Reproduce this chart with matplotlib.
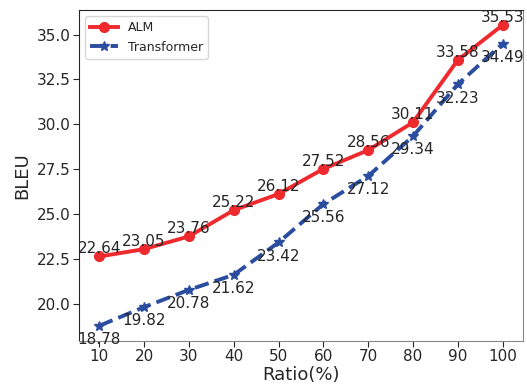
import matplotlib.pyplot as plt
import numpy as np

ratios = [10, 20, 30, 40, 50, 60, 70, 80, 90, 100]
alm = [22.64, 23.05, 23.76, 25.22, 26.12, 27.52, 28.56, 30.11, 33.58, 35.53]
transformer = [18.78, 19.82, 20.78, 21.62, 23.42, 25.56, 27.12, 29.34, 32.23, 34.49]

red = '#ee2a2f'
blue = '#2a4d9f'
txt = '#262626'

fig = plt.figure(figsize=(5.27, 3.86), dpi=100)
ax = fig.add_axes([0.15, 0.117, 0.842, 0.857])

ax.plot(ratios, alm, color=red, lw=2.8, marker='o', ms=7, label='ALM')
ax.plot(ratios, transformer, color=blue, lw=2.8, ls='--', marker='*', ms=7,
        label='Transformer')

for x, y in zip(ratios, alm):
    ax.text(x, y, '%.2f' % y, ha='center', va='bottom', fontsize=11, color=txt)
for x, y in zip(ratios, transformer):
    ax.text(x, y - 0.35, '%.2f' % y, ha='center', va='top', fontsize=11, color=txt)

ax.set_xticks(ratios)
ax.set_yticks([20.0, 22.5, 25.0, 27.5, 30.0, 32.5, 35.0])
ax.set_yticklabels(['20.0', '22.5', '25.0', '27.5', '30.0', '32.5', '35.0'])
ax.tick_params(labelsize=11, colors=txt, length=4, pad=2)
ax.set_xlabel('Ratio(%)', fontsize=13, color=txt, labelpad=1)
ax.set_ylabel('BLEU', fontsize=13, color=txt)
ax.spines['bottom'].set_color('#888888')
ax.spines['right'].set_color('#888888')
ax.spines['left'].set_color(txt)
ax.spines['top'].set_color(txt)

leg = ax.legend(loc='upper left', fontsize=9, handlelength=2.2)
for t in leg.get_texts():
    t.set_color(txt)

fig.savefig('out.png', dpi=100)
